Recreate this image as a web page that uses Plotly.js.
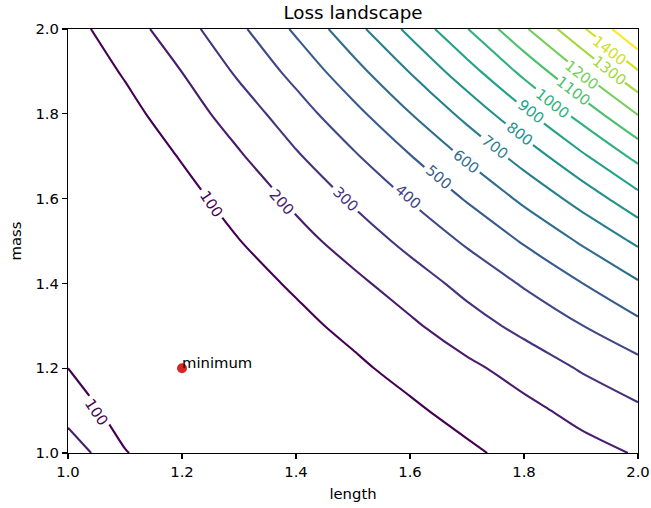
<!DOCTYPE html>
<html>
<head>
<meta charset="utf-8">
<script src="https://cdn.plot.ly/plotly-3.0.1.min.js"></script>
<style>html,body{margin:0;padding:0;background:#fff;}#chart{width:651px;height:508px;}</style>
</head>
<body>
<div id="chart"></div>
<script>
// Grid axes (length on x, mass on y)
const lengthVals = [1.0, 1.1, 1.2, 1.3, 1.4, 1.5, 1.6, 1.7, 1.8, 1.9, 2.0];
const massVals   = [1.0, 1.1, 1.2, 1.3, 1.4, 1.5, 1.6, 1.7, 1.8, 1.9, 2.0];

// Loss values, one row per mass value (bottom to top)
const lossMass10 = [265, 105, 34, 3.5, 2.3, 20, 49, 83, 131, 163, 208];
const lossMass11 = [156, 57, 9, 0.7, 17, 48, 84, 133, 172, 231, 284];
const lossMass12 = [100, 23, 0.2, 11, 41, 82, 131, 178, 242, 308, 365];
const lossMass13 = [64, 9, 2.5, 29, 76, 124, 183, 258, 327, 397, 475];
const lossMass14 = [35, 1, 12, 64, 112.5, 176, 251, 331, 410, 497, 590];
const lossMass15 = [6, 9, 45, 98, 165, 243, 328, 414, 510, 611, 718];
const lossMass16 = [0.5, 23, 72, 134, 222, 314, 406, 509, 621, 737, 868];
const lossMass17 = [5, 42, 106, 190, 289, 387, 496, 615, 741, 882, 1029];
const lossMass18 = [18, 71, 150, 249, 356, 470, 597, 730, 880, 1036, 1205];
const lossMass19 = [34, 109, 201, 316, 431, 564, 704, 860, 1026, 1203, 1394];
const lossMass20 = [65, 152, 261, 380, 516, 663, 825, 996, 1185, 1381, 1600];

// Contour levels
const levelStart = 100, levelEnd = 1500, levelStep = 100;

// Inline contour labels (as placed in the reference)
const labelText   = ['100', '200', '300', '400', '500', '600', '700', '800', '900', '1000', '1100', '1200', '1300', '1400', '100'];
const labelLength = [1.252, 1.375, 1.487, 1.597, 1.650, 1.699, 1.749, 1.793, 1.813, 1.851, 1.887, 1.901, 1.951, 1.951, 1.050];
const labelMass   = [1.589, 1.593, 1.600, 1.604, 1.652, 1.687, 1.722, 1.754, 1.805, 1.825, 1.856, 1.892, 1.903, 1.950, 1.098];
const labelAngle  = [56, 48, 44, 41, 40, 39, 38.5, 38, 38.5, 38, 37.5, 38, 38, 38, 56];

// Minimum marker
const minLength = [1.2];
const minMass = [1.2];
const minLabel = ['minimum'];

// Axis ticks
const tickVals = [1.0, 1.2, 1.4, 1.6, 1.8, 2.0];
const tickText = ['1.0', '1.2', '1.4', '1.6', '1.8', '2.0'];

const lossGrid = [lossMass10, lossMass11, lossMass12, lossMass13, lossMass14, lossMass15,
                  lossMass16, lossMass17, lossMass18, lossMass19, lossMass20];

const FONT = 'DejaVu Sans, Liberation Sans, sans-serif';
const FS = 14.8;

const viridis = [
  [0, '#440154'], [0.0627, '#48186a'], [0.1255, '#472d7b'], [0.1882, '#424086'],
  [0.2510, '#3b528b'], [0.3137, '#33638d'], [0.3765, '#2c728e'], [0.4392, '#26828e'],
  [0.5020, '#21918c'], [0.5647, '#1fa088'], [0.6275, '#28ae80'], [0.6902, '#3fbc73'],
  [0.7529, '#5ec962'], [0.8157, '#84d44b'], [0.8784, '#addc30'], [0.9412, '#d8e219'],
  [1, '#fde725']
];
function hexToRgb(h) { return [1, 3, 5].map(i => parseInt(h.substr(i, 2), 16)); }
function viridisAt(v) {
  let t = (v - levelStart) / (levelEnd - levelStart);
  t = Math.max(0, Math.min(1, t));
  for (let i = 1; i < viridis.length; i++) {
    if (t <= viridis[i][0]) {
      const a = viridis[i - 1], b = viridis[i];
      const f = (t - a[0]) / (b[0] - a[0]);
      const ca = hexToRgb(a[1]), cb = hexToRgb(b[1]);
      const c = ca.map((x, k) => Math.round(x + (cb[k] - x) * f));
      return 'rgb(' + c.join(',') + ')';
    }
  }
  return viridis[viridis.length - 1][1];
}

const contour = {
  type: 'contour',
  x: lengthVals,
  y: massVals,
  z: lossGrid,
  zauto: false,
  zmin: levelStart,
  zmax: levelEnd,
  autocontour: false,
  contours: {
    start: levelStart, end: levelEnd, size: levelStep,
    coloring: 'lines',
    showlabels: false
  },
  line: {width: 2.1, smoothing: 0.8},
  colorscale: viridis,
  showscale: false,
  hoverinfo: 'skip'
};

const minimum = {
  type: 'scatter',
  mode: 'markers',
  x: minLength,
  y: minMass,
  marker: {color: '#d62728', size: 10},
  cliponaxis: false,
  showlegend: false
};

const annotations = labelText.map((t, i) => ({
  x: labelLength[i], y: labelMass[i], xref: 'x', yref: 'y',
  text: t, showarrow: false, textangle: labelAngle[i],
  xanchor: 'center', yanchor: 'middle',
  bgcolor: '#ffffff',
  // tight boxes where labels sit close together in the top-right corner
  borderpad: parseFloat(t) >= 1100 ? 0 : 3,
  font: {family: FONT, size: FS, color: viridisAt(parseFloat(t))}
}));
annotations.push({
  x: minLength[0], y: minMass[0], xref: 'x', yref: 'y',
  text: minLabel[0], showarrow: false,
  xanchor: 'left', yanchor: 'bottom', xshift: -1, yshift: -4, borderpad: 0,
  font: {family: FONT, size: FS, color: '#000'}
});

const layout = {
  width: 651,
  height: 508,
  margin: {l: 68, r: 13, t: 29, b: 55},
  paper_bgcolor: '#ffffff',
  plot_bgcolor: '#ffffff',
  showlegend: false,
  annotations: annotations,
  title: {
    text: 'Loss landscape',
    font: {family: FONT, size: 18.3, color: '#000'},
    x: 0.5, xref: 'paper', xanchor: 'center',
    y: 1, yref: 'paper', yanchor: 'bottom', pad: {b: 10}
  },
  font: {family: FONT, size: FS, color: '#000'},
  xaxis: {
    range: [1.0, 2.0],
    tickvals: tickVals, ticktext: tickText,
    ticks: 'outside', ticklen: 5, tickwidth: 1.1, tickcolor: '#000',
    showline: true, linecolor: '#000', linewidth: 1.1, mirror: true,
    showgrid: false, zeroline: false,
    tickfont: {family: FONT, size: FS, color: '#000'},
    title: {text: 'length', font: {family: FONT, size: FS, color: '#000'}, standoff: 9}
  },
  yaxis: {
    range: [1.0, 2.0],
    tickvals: tickVals, ticktext: tickText,
    ticks: 'outside', ticklen: 5, tickwidth: 1.1, tickcolor: '#000',
    showline: true, linecolor: '#000', linewidth: 1.1, mirror: true,
    showgrid: false, zeroline: false,
    tickfont: {family: FONT, size: FS, color: '#000'},
    title: {text: 'mass', font: {family: FONT, size: FS, color: '#000'}, standoff: 10}
  }
};

Plotly.newPlot('chart', [contour, minimum], layout, {staticPlot: true, displayModeBar: false});
</script>
</body>
</html>
